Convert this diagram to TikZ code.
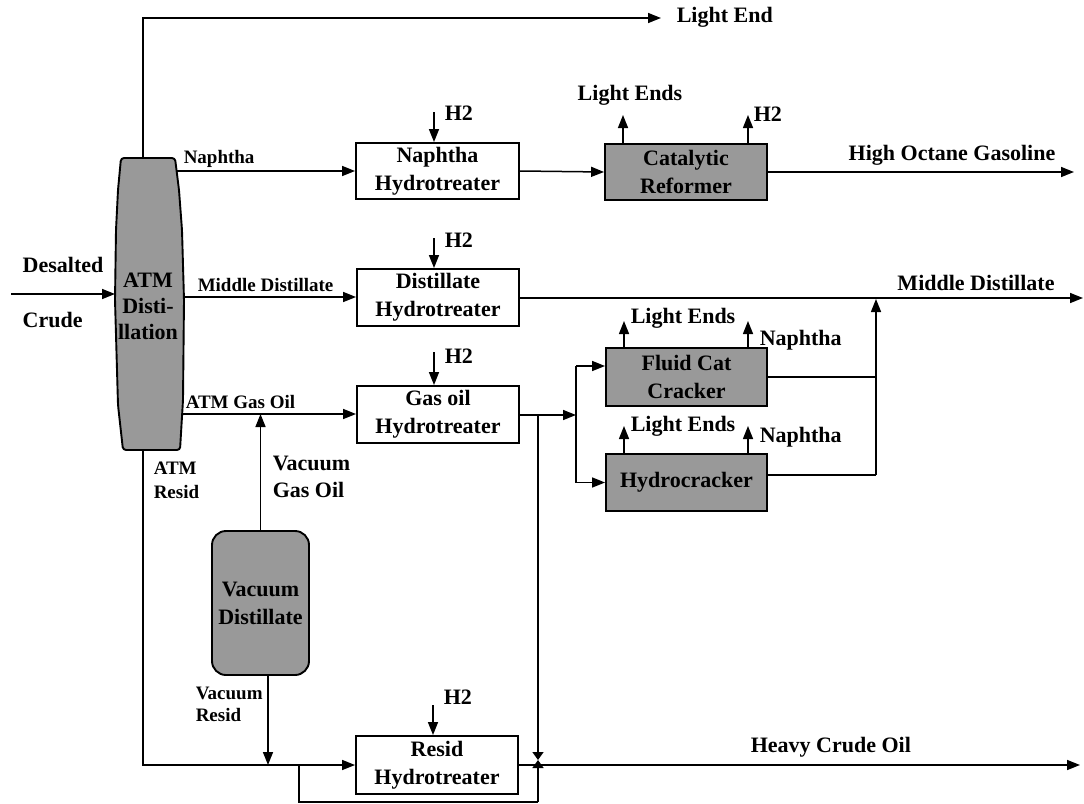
\documentclass[tikz,border=0pt]{standalone}
\usepackage{fontspec}
\setmainfont{Liberation Serif}
\usetikzlibrary{arrows.meta,calc}
\begin{document}
\begin{tikzpicture}[x=1pt,y=-1pt,
  font=\fontsize{22}{26}\selectfont\bfseries,
  line width=1.5pt,
  flow/.style={-{Triangle[length=13pt,width=10pt]}},
  tipflow/.style={-{Triangle[length=8pt,width=11pt]}},
  lbl/.style={inner sep=0pt, anchor=west},
  small/.style={font=\fontsize{19}{23}\selectfont\bfseries},
  boxtext/.style={align=center, inner sep=0pt, line width=1.9pt, font=\fontsize{22}{28}\selectfont\bfseries},
  light/.style={boxtext, draw, fill=white},
  dark/.style={boxtext, draw, fill=black!40},
]
\useasboundingbox (0,0) rectangle (1084,803);

% ---- ATM distillation column
\draw[line width=1.9pt, fill=black!40, rounded corners=3pt]
  (121,158) -- (175,158) -- (179,190) -- (182,230) -- (184,300) -- (183,400) -- (180,450)
  -- (123,450) -- (118,405) -- (115,300) -- (116,230) -- (118,190) -- cycle;
\node[align=center, inner sep=0pt, font=\fontsize{22}{26}\selectfont\bfseries] (atm) at (148,306) {ATM\\Disti-\\llation};
\coordinate (atmTop) at (143,158);
\coordinate (atmNaph) at (176,171);
\coordinate (atmMD) at (183,297);
\coordinate (atmGO) at (183,414);
\coordinate (atmBot) at (143,450);
\coordinate (atmIn) at (115,294);

% ---- process boxes
\node[light, minimum width=163pt, minimum height=56pt] (nh) at (437.5,171) {Naphtha\\Hydrotreater};
\node[light, minimum width=162pt, minimum height=57pt] (dh) at (438,297.5) {Distillate\\Hydrotreater};
\node[light, minimum width=162pt, minimum height=57pt] (goh) at (438,414.5) {Gas oil\\Hydrotreater};
\node[light, minimum width=162pt, minimum height=58pt] (rh) at (437,765) {Resid\\Hydrotreater};
\node[dark, minimum width=162pt, minimum height=56pt] (cr) at (686,172) {Catalytic\\Reformer};
\node[dark, minimum width=161pt, minimum height=58pt] (fcc) at (686.5,377) {Fluid Cat\\Cracker};
\node[dark, minimum width=161pt, minimum height=57pt] (hc) at (686.5,482.5) {Hydrocracker};
\node[dark, rounded corners=14pt, minimum width=97pt, minimum height=144pt] (vd) at (260.5,603) {Vacuum\\Distillate};

% ---- crude feed
\coordinate (crIn) at (11,294);
\draw[flow] (crIn) -- (atmIn);
\node[lbl] (desL) at (22,265) {Desalted};
\node[lbl] (crL) at (22,320) {Crude};

% ---- light end overhead
\coordinate (leEnd) at (661,18);
\draw[flow] (atmTop) |- (leEnd);
\node[lbl] (leL) at (676,17) {Light End};

% ---- naphtha train
\draw[flow] (atmNaph) -- (nh.west);
\node[lbl, small] (naL) at (183,159) {Naphtha};
\coordinate (h2a) at (434,112);
\draw[flow] (h2a) -- (h2a |- nh.north);
\node[lbl] (h2aL) at (444,113) {H2};
\draw[flow] (nh.east) -- (cr.west);
\coordinate (crLE) at (623,115);
\draw[flow] (crLE |- cr.north) -- (crLE);
\node (crLEL) at (630,95) {Light Ends};
\coordinate (crH2) at (748,115);
\draw[flow] (crH2 |- cr.north) -- (crH2);
\node[lbl] (crH2L) at (753,114) {H2};
\coordinate (hogEnd) at (1074,172);
\draw[flow] (cr.east) -- (hogEnd);
\node (hogL) at (952,155) {High Octane Gasoline};

% ---- middle distillate train
\draw[flow] (atmMD) -- (atmMD -| dh.west);
\node[lbl, small] (mdL) at (197,285) {Middle Distillate};
\coordinate (h2b) at (434,238);
\draw[flow] (h2b) -- (h2b |- dh.north);
\node[lbl] (h2bL) at (444,240) {H2};
\coordinate (mdEnd) at (1083,298);
\draw[flow] (dh.east |- mdEnd) -- (mdEnd);
\node (mdOutL) at (976,283) {Middle Distillate};

% ---- gas oil train
\draw[flow] (atmGO) -- (atmGO -| goh.west);
\node[lbl, small] (agoL) at (185,402) {ATM Gas Oil};
\coordinate (h2c) at (434,352);
\draw[flow] (h2c) -- (h2c |- goh.north);
\node[lbl] (h2cL) at (444,356) {H2};
\draw[flow] (vd.north) -- (vd.north |- atmGO);
\node[lbl] (vgoL1) at (272,463) {Vacuum};
\node[lbl] (vgoL2) at (272,490) {Gas Oil};

\coordinate (gsplit) at (538,415);
\coordinate (split) at (576,415);
\draw[flow] (goh.east |- split) -- (split);
\coordinate (fccIn) at (576,366);
\coordinate (hcIn) at (576,482.5);
\draw (fccIn) -- (hcIn);
\draw[flow] (fccIn) -- (fccIn -| fcc.west);
\draw[flow] (hcIn) -- (hc.west);

% crackers by-products
\coordinate (fLE) at (624,321);
\draw[flow] (fLE |- fcc.north) -- (fLE);
\node[lbl] (fLEL) at (630,318) {Light Ends};
\coordinate (fNa) at (748,321);
\draw[flow] (fNa |- fcc.north) -- (fNa);
\node[lbl] (fNaL) at (759,340) {Naphtha};
\coordinate (hLE) at (624,426);
\draw[flow] (hLE |- hc.north) -- (hLE);
\node[lbl] (hLEL) at (630,426) {Light Ends};
\coordinate (hNa) at (748,426);
\draw[flow] (hNa |- hc.north) -- (hNa);
\node[lbl] (hNaL) at (759,437) {Naphtha};

% crackers to middle distillate
\coordinate (mdj) at (876,299);
\coordinate (fccOut) at (876,377);
\coordinate (hcOut) at (876,475);
\draw (fcc.east) -- (fccOut);
\draw (hc.east |- hcOut) -- (hcOut);
\draw[flow] (hcOut) -- (mdj);

% ---- resid train
\coordinate (rsj) at (143,765);
\draw[flow] (atmBot) -- (rsj) -- (rh.west);
\node[lbl, small] (arL1) at (153,468) {ATM};
\node[lbl, small] (arL2) at (153,492) {Resid};
\coordinate (vrTop) at (268,675);
\coordinate (vrEnd) at (268,765);
\draw[flow] (vrTop) -- (vrEnd);
\node[lbl, small] (vrL1) at (195,693) {Vacuum};
\node[lbl, small] (vrL2) at (195,715) {Resid};
\coordinate (h2d) at (433,705);
\draw[flow] (h2d) -- (h2d |- rh.north);
\node[lbl] (h2dL) at (443,697) {H2};

% heavy crude oil and bypass
\coordinate (hcoEnd) at (1080,765);
\draw[flow] (rh.east) -- (hcoEnd);
\node[lbl] (hcoL) at (750,747) {Heavy Crude Oil};
\coordinate (meet) at (538,760);
\coordinate (byp) at (538,802);
\coordinate (bypL) at (299,765);
\draw[tipflow] (gsplit) -- (meet);
\draw[tipflow] (byp) -- (meet);
\draw (bypL) |- (byp);
\end{tikzpicture}
\end{document}
